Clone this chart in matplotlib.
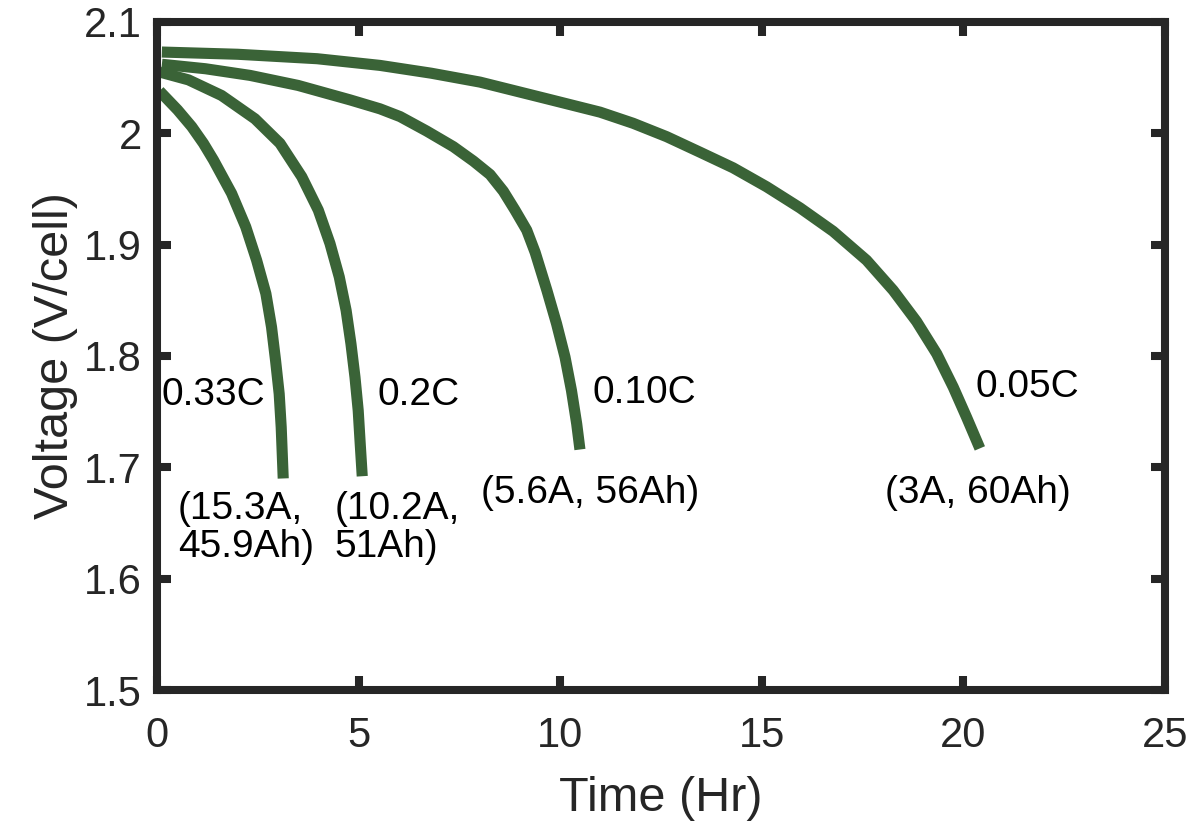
import matplotlib.pyplot as plt

plt.rcParams['font.family'] = ['Liberation Sans', 'DejaVu Sans']

# discharge curves (time in hours, voltage per cell)
t_033c = [0.06, 0.51, 0.86, 1.15, 1.40, 1.85, 2.20, 2.47, 2.70, 2.84, 2.94, 3.03, 3.08, 3.13]
v_033c = [2.038, 2.021, 2.006, 1.991, 1.976, 1.946, 1.916, 1.886, 1.856, 1.826, 1.796, 1.766,
          1.736, 1.690]

t_02c = [0.07, 0.78, 1.60, 2.43, 3.05, 3.59, 4.00, 4.29, 4.52, 4.69, 4.81, 4.91, 4.99, 5.04, 5.09]
v_02c = [2.055, 2.048, 2.034, 2.013, 1.991, 1.961, 1.931, 1.901, 1.871, 1.841, 1.811, 1.781,
         1.751, 1.721, 1.692]

t_010c = [0.12, 1.20, 2.31, 3.50, 4.79, 5.53, 6.03, 6.69, 7.35, 7.85, 8.26, 8.59, 8.88, 9.17,
          9.38, 9.67, 9.91, 10.12, 10.28, 10.41, 10.49]
v_010c = [2.062, 2.058, 2.052, 2.043, 2.030, 2.022, 2.015, 2.002, 1.988, 1.975, 1.963, 1.948,
          1.931, 1.913, 1.893, 1.859, 1.829, 1.799, 1.769, 1.739, 1.716]

t_005c = [0.12, 2.00, 3.97, 5.53, 6.80, 8.01, 9.67, 10.99, 11.81, 12.64, 13.47, 14.29, 15.12,
          15.95, 16.77, 17.60, 18.26, 18.84, 19.34, 19.75, 20.08, 20.41]
v_005c = [2.073, 2.071, 2.067, 2.061, 2.054, 2.046, 2.031, 2.019, 2.009, 1.997, 1.983, 1.969,
          1.952, 1.933, 1.912, 1.886, 1.859, 1.831, 1.802, 1.772, 1.745, 1.717]

rate_labels = ['0.33C', '0.2C', '0.10C', '0.05C']
cap_labels = ['(15.3A,\n45.9Ah)', '(10.2A,\n51Ah)', '(5.6A, 56Ah)', '(3A, 60Ah)']

green = '#3a6337'
dark = '#262626'

fig = plt.figure(figsize=(11.96, 8.23), dpi=100)
ax = fig.add_axes([0.1313, 0.1616, 0.8427, 0.8117])

for t, v in [(t_033c, v_033c), (t_02c, v_02c), (t_010c, v_010c), (t_005c, v_005c)]:
    ax.plot(t, v, color=green, lw=8, solid_capstyle='butt', solid_joinstyle='round')

# rate labels
ax.text(0.12, 1.765, rate_labels[0], fontsize=28, va='center', ha='left')
ax.text(5.48, 1.765, rate_labels[1], fontsize=28, va='center', ha='left')
ax.text(10.79, 1.767, rate_labels[2], fontsize=28, va='center', ha='left')
ax.text(20.29, 1.772, rate_labels[3], fontsize=28, va='center', ha='left')

# current / capacity labels
ax.text(0.52, 1.679, cap_labels[0], fontsize=28, va='top', ha='left', linespacing=1.08)
ax.text(4.41, 1.679, cap_labels[1], fontsize=28, va='top', ha='left', linespacing=1.08)
ax.text(8.04, 1.677, cap_labels[2], fontsize=28, va='center', ha='left')
ax.text(18.06, 1.677, cap_labels[3], fontsize=28, va='center', ha='left')

ax.set_xlim(0, 25)
ax.set_ylim(1.5, 2.1)
ax.set_xticks([0, 5, 10, 15, 20, 25])
ax.set_yticks([1.5, 1.6, 1.7, 1.8, 1.9, 2.0, 2.1])
ax.set_yticklabels(['1.5', '1.6', '1.7', '1.8', '1.9', '2', '2.1'])

for s in ax.spines.values():
    s.set_linewidth(5.8)
    s.set_color(dark)

ax.tick_params(direction='in', length=10, width=5.8, color=dark, labelcolor=dark,
               labelsize=30, top=True, right=True)
ax.tick_params(axis='y', pad=11)
ax.tick_params(axis='x', pad=19)

ax.set_xlabel('Time (Hr)', fontsize=35, color=dark, labelpad=14)
ax.set_ylabel('Voltage (V/cell)', fontsize=35, color=dark, labelpad=4)

fig.savefig('out.png', dpi=100)
